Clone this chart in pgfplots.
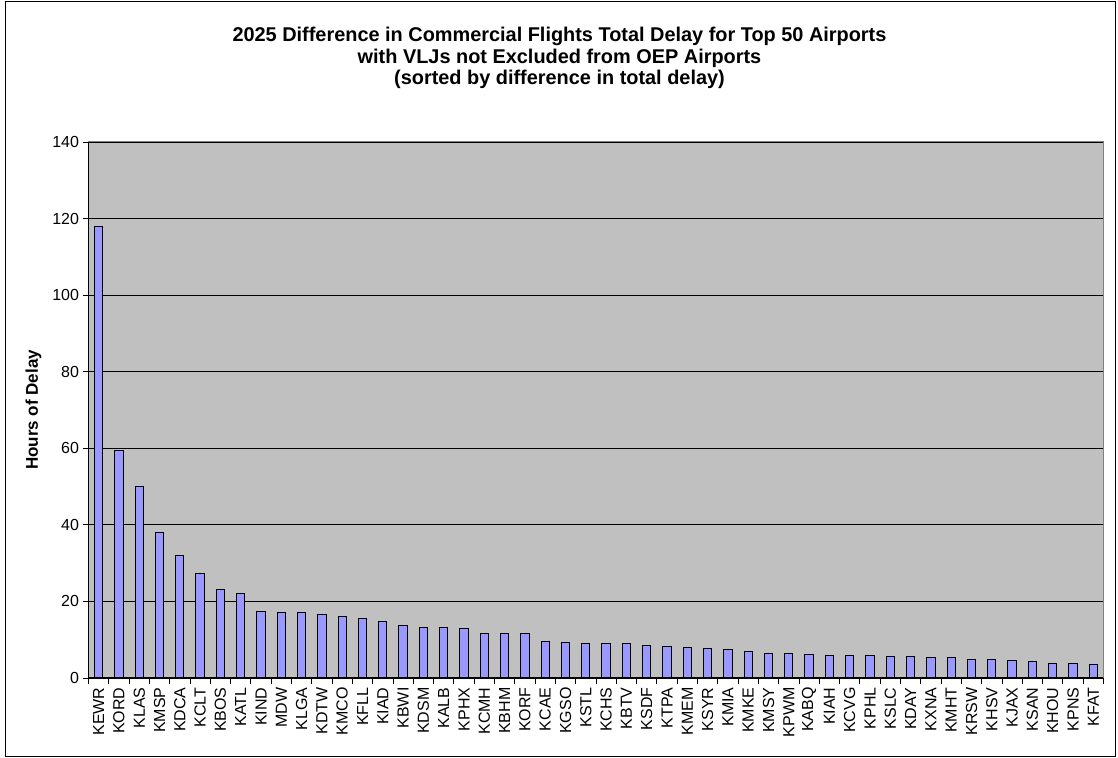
\documentclass[border=0pt]{standalone}
\usepackage{pgfplots}
\usepackage{pgfplotstable}
\pgfplotsset{compat=1.18}
\usepackage{fontspec}
\setmainfont{Liberation Sans}

\definecolor{barfill}{HTML}{9999FF}
\definecolor{plotbg}{HTML}{C0C0C0}
\definecolor{frameg}{HTML}{808080}

\pgfplotstableread{
idx name delay
0  KEWR 117.8
1  KORD 59.5
2  KLAS 50.0
3  KMSP 38.1
4  KDCA 31.9
5  KCLT 27.2
6  KBOS 23.1
7  KATL 22.2
8  KIND 17.4
9  MDW  17.0
10 KLGA 17.0
11 KDTW 16.6
12 KMCO 16.0
13 KFLL 15.6
14 KIAD 14.7
15 KBWI 13.6
16 KDSM 13.3
17 KALB 13.1
18 KPHX 12.8
19 KCMH 11.7
20 KBHM 11.7
21 KORF 11.5
22 KCAE 9.6
23 KGSO 9.2
24 KSTL 9.0
25 KCHS 9.0
26 KBTV 9.0
27 KSDF 8.5
28 KTPA 8.1
29 KMEM 7.9
30 KSYR 7.7
31 KMIA 7.4
32 KMKE 7.0
33 KMSY 6.3
34 KPWM 6.3
35 KABQ 6.1
36 KIAH 5.8
37 KCVG 5.8
38 KPHL 5.8
39 KSLC 5.7
40 KDAY 5.6
41 KXNA 5.4
42 KMHT 5.3
43 KRSW 4.9
44 KHSV 4.8
45 KJAX 4.5
46 KSAN 4.2
47 KHOU 3.8
48 KPNS 3.7
49 KFAT 3.6
}\delaydata

\begin{document}
\begin{tikzpicture}
\path[use as bounding box] (0pt,0pt) rectangle (1118pt,757pt);
\draw[black, line width=1pt] (5pt,1pt) rectangle (1115pt,755pt);

\node[font=\fontsize{19.9}{21.5}\selectfont\bfseries, align=center] at (559.5pt,699pt)
  {2025 Difference in Commercial Flights Total Delay for Top 50 Airports\\
   with VLJs not Excluded from OEP Airports\\
   (sorted by difference in total delay)};

\begin{axis}[
    at={(88.5pt,79pt)}, anchor=south west,
    scale only axis,
    width=1015pt, height=536pt,
    xmin=-0.5, xmax=49.5,
    ymin=0, ymax=140,
    ytick={0,20,...,140},
    xtick={0,...,49},
    xticklabels from table={\delaydata}{name},
    minor xtick={-0.5,0.5,...,49.5},
    major x tick style={draw=none},
    minor x tick style={black, line width=0.8pt},
    y tick style={black, line width=0.8pt},
    tick align=outside,
    tickpos=left,
    major tick length=6pt,
    minor tick length=6pt,
    axis background/.style={fill=plotbg},
    axis line style={frameg, line width=1pt},
    ymajorgrids=true,
    grid style={black, line width=0.8pt},
    /pgf/number format/assume math mode=true,
    ticklabel style={font=\fontsize{16}{18}\selectfont},
    xticklabel style={rotate=90, anchor=east, yshift=0pt},
    ylabel={\textbf{Hours of Delay}},
    ylabel style={font=\fontsize{17}{19}\selectfont, xshift=0pt, yshift=4pt},
    clip=false,
]
\addplot[ybar, bar width=8.3pt, fill=barfill, draw=black, line width=1pt]
    table[x=idx, y=delay] {\delaydata};
\draw[black, line width=1pt] (rel axis cs:0,0) -- (rel axis cs:0,1);
\draw[black, line width=1pt] (rel axis cs:0,0) -- (rel axis cs:1,0);
\end{axis}
\end{tikzpicture}
\end{document}
